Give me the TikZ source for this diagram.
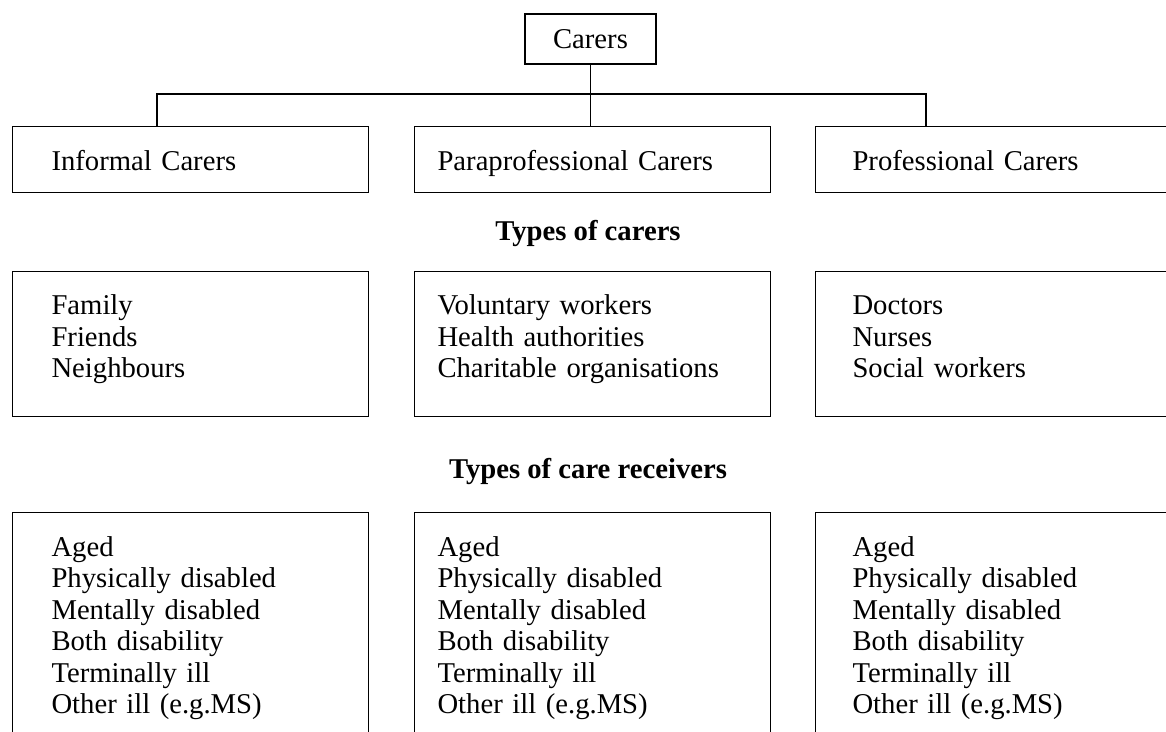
\documentclass[tikz,border=0pt]{standalone}
\usepackage{fontspec}
\setmainfont{Liberation Serif}
\usetikzlibrary{positioning}
\tikzset{
  cbox/.style={draw,line width=0.8pt,anchor=north west,align=left,inner ysep=0pt,
    font=\fontsize{21.5}{23.6}\selectfont,execute at begin node=\strut,execute at end node=\strut},
  colone/.style={text width=208.5pt,inner xsep=29.25pt},
  coltwo/.style={text width=232.5pt,inner xsep=17.25pt},
  colthree/.style={text width=211.5pt,inner xsep=27.75pt},
  rowone/.style={minimum height=49.5pt,text height=17.2pt,text depth=0pt},
  rowtwo/.style={minimum height=108.75pt,text depth=60.3pt},
  rowthree/.style={minimum height=174pt},
  heading/.style={font=\bfseries\fontsize{21.5}{23.6}\selectfont},
  link/.style={line width=0.8pt}
}

\begin{document}
\begin{tikzpicture}[x=0.75pt,y=-0.75pt]
    \useasboundingbox (0,0) rectangle (1166,731);
    \clip (0,0) rectangle (1166,731);
    % top of the tree
    \node[draw,line width=0.8pt,minimum width=98.25pt,minimum height=37.5pt,inner sep=0pt,font=\fontsize{21.5}{23.6}\selectfont] (carers) at (590.5,39) {Carers};
    % kinds of carers
    \node[cbox,colone,rowone] (informal) at (12,126) {Informal Carers};
    \node[cbox,coltwo,rowone] (para) at (414,126) {Paraprofessional Carers};
    \node[cbox,colthree,rowone] (prof) at (815,126) {Professional Carers};
    \coordinate (jl) at (157,94);
    \coordinate (jr) at (926,94);
    \draw[link] (jl |- informal.north) -- (jl) -- (jr) -- (jr |- prof.north);
    \draw[link] (carers.south) -- (carers.south |- para.north);
    \node[heading] (typecarers) at (588,234) {Types of carers};
    % who they are
    \node[cbox,colone,rowtwo] (whoinf) at (12,271) {Family\\Friends\\Neighbours};
    \node[cbox,coltwo,rowtwo] (whopara) at (414,271) {Voluntary workers\\Health authorities\\Charitable organisations};
    \node[cbox,colthree,rowtwo] (whoprof) at (815,271) {Doctors\\Nurses\\Social workers};
    \node[heading] (typereceivers) at (588,471) {Types of care receivers};
    % receivers, same list three times
    \foreach \x/\c/\n in {12/colone/rinf, 414/coltwo/rpara, 815/colthree/rprof}
      \node[cbox,\c,rowthree] (\n) at (\x,512) {Aged\\Physically disabled\\Mentally disabled\\Both disability\\Terminally ill\\Other ill (e.g.MS)};
\end{tikzpicture}
\end{document}
